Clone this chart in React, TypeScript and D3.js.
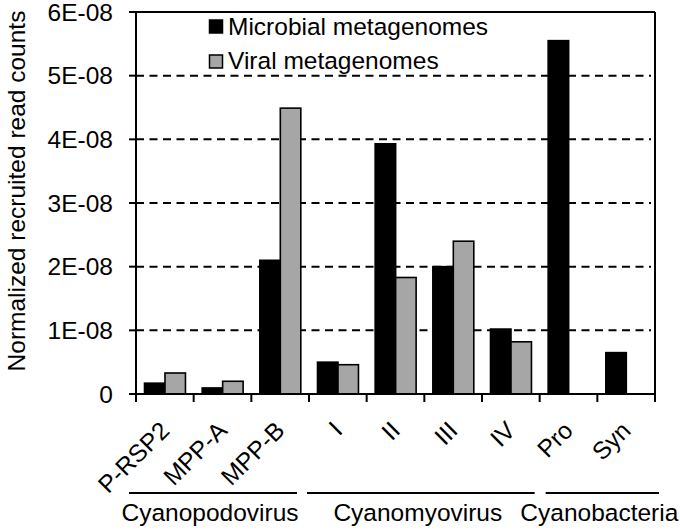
import React from "react";
import * as d3 from "d3";

const categories = ["P-RSP2", "MPP-A", "MPP-B", "I", "II", "III", "IV", "Pro", "Syn"];
const microbial = [1.7e-9, 0.95e-9, 2.1e-8, 5.0e-9, 3.93e-8, 2.0e-8, 1.02e-8, 5.55e-8, 6.5e-9];
const viral = [3.3e-9, 2.0e-9, 4.49e-8, 4.6e-9, 1.83e-8, 2.4e-8, 8.2e-9, 0, 0];
const yTicks = [0, 1e-8, 2e-8, 3e-8, 4e-8, 5e-8, 6e-8];
const tickLabels = ["0", "1E-08", "2E-08", "3E-08", "4E-08", "5E-08", "6E-08"];
const seriesNames = ["Microbial metagenomes", "Viral metagenomes"];
const seriesColors = ["#000000", "#a6a6a6"];
const groups = [
  { name: "Cyanopodovirus", from: 0, to: 2, a: -7, b: -12 },
  { name: "Cyanomyovirus", from: 3, to: 6, a: -2, b: -5 },
  { name: "Cyanobacteria", from: 7, to: 8, a: 6, b: 4 },
];

const W = 680, H = 530;
const L = 136, R = 655, T = 12, B = 394;
const FONT = "'Liberation Sans', Arial, sans-serif";
const FS = 24.5;

export default function App() {
  const x = d3.scaleBand<string>().domain(categories).range([L, R]).padding(0);
  const bw = x.bandwidth();
  const inner = d3.scaleBand<number>().domain([0, 1]).range([8.5, bw - 8.2]).padding(0);
  const y = d3.scaleLinear().domain([0, 6e-8]).range([B, T]);
  const series = [microbial, viral];

  return (
    <svg width={W} height={H} style={{ position: "absolute", left: 0, top: 0, background: "#fff" }} fontFamily={FONT}>
      <rect x={0} y={0} width={W} height={H} fill="#fff" />
      {yTicks.slice(1, -1).map((t) => (
        <line key={"g" + t} x1={L} x2={R - 4} y1={y(t)} y2={y(t)} stroke="#000" strokeWidth={2} strokeDasharray="8,5.5" />
      ))}
      {categories.map((c, i) =>
        series.map((s, k) =>
          s[i] > 0 ? (
            <rect
              key={c + k}
              x={(x(c) as number) + (inner(k) as number)}
              y={y(s[i])}
              width={inner.bandwidth()}
              height={B - y(s[i])}
              fill={seriesColors[k]}
              stroke="#000"
              strokeWidth={1.6}
            />
          ) : null
        )
      )}
      <line x1={L} x2={L} y1={T} y2={B} stroke="#000" strokeWidth={2} />
      <line x1={R} x2={R} y1={T} y2={B} stroke="#000" strokeWidth={2} />
      <line x1={L - 7} x2={R} y1={T} y2={T} stroke="#000" strokeWidth={2} />
      <line x1={L - 7} x2={R} y1={B} y2={B} stroke="#000" strokeWidth={2} />
      {yTicks.map((t, i) => (
        <g key={"yt" + t}>
          <line x1={L - 7} x2={L} y1={y(t)} y2={y(t)} stroke="#000" strokeWidth={2} />
          <text x={113} y={y(t)} dy="0.36em" textAnchor="end" fontSize={FS} fill="#000">
            {tickLabels[i]}
          </text>
        </g>
      ))}
      {categories.concat(["__end"]).map((c, i) => {
        const xx = i < categories.length ? (x(c) as number) : R;
        return <line key={"xt" + i} x1={xx} x2={xx} y1={B} y2={B + 8} stroke="#000" strokeWidth={2} />;
      })}
      {categories.map((c) => {
        const cx = (x(c) as number) + bw / 2 + 6;
        return (
          <text key={"cl" + c} transform={`translate(${cx},432) rotate(-45)`} textAnchor="end" fontSize={FS} fill="#000">
            {c}
          </text>
        );
      })}
      {groups.map((g) => {
        const x1 = (x(categories[g.from]) as number) + g.a;
        const x2 = (x(categories[g.to]) as number) + bw + g.b;
        return (
          <g key={g.name}>
            <line x1={x1} x2={x2} y1={493} y2={493} stroke="#000" strokeWidth={2} />
            <text x={(x1 + x2) / 2 - 3} y={521} textAnchor="middle" fontSize={FS} fill="#000">
              {g.name}
            </text>
          </g>
        );
      })}
      <text transform="translate(25,191) rotate(-90)" textAnchor="middle" fontSize={FS} fill="#000">
        Normalized recruited read counts
      </text>
      {seriesNames.map((n, k) => (
        <g key={n}>
          <rect x={209.5} y={20 + k * 35} width={13} height={13} fill={seriesColors[k]} stroke="#000" strokeWidth={1.5} />
          <text x={228} y={35 + k * 33.5} fontSize={FS} fill="#000">
            {n}
          </text>
        </g>
      ))}
    </svg>
  );
}
